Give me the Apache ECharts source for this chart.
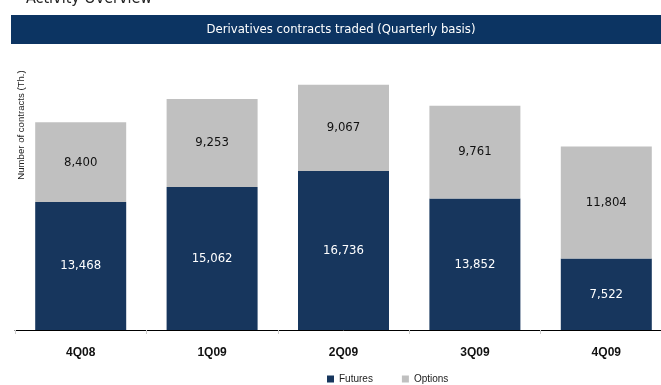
<!DOCTYPE html>
<html>
<head>
<meta charset="utf-8">
<script src="https://cdn.jsdelivr.net/npm/echarts@6/dist/echarts.min.js"></script>
<style>
  html, body { margin: 0; padding: 0; background: #fff; overflow: hidden; }
  /* the plot runs a little past the right edge of the page */
  #chart { width: 672px; height: 385px; }
</style>
</head>
<body>
<div id="chart"></div>
<script>
// Quarterly derivatives contracts traded, in thousands
const quarters = ['4Q08', '1Q09', '2Q09', '3Q09', '4Q09'];
const futures = [13468, 15062, 16736, 13852, 7522];
const options = [8400, 9253, 9067, 9761, 11804];

const fmt = v => v.toLocaleString('en-US');

const chart = echarts.init(document.getElementById('chart'), null, { renderer: 'canvas' });

chart.setOption({
  animation: false,
  backgroundColor: '#ffffff',
  graphic: [
    {
      type: 'text', left: 26, top: -9,
      style: { text: 'Activity Overview', font: '16px "DejaVu Sans Condensed", Tahoma, sans-serif', fill: '#222' }
    },
    {
      type: 'rect', shape: { x: 11, y: 15, width: 661, height: 29 },
      style: { fill: '#0c3462' }
    },
    {
      type: 'text', x: 341, y: 30,
      style: {
        text: 'Derivatives contracts traded (Quarterly basis)',
        font: '13px "DejaVu Sans Condensed", Tahoma, sans-serif',
        fill: '#ffffff', align: 'center', verticalAlign: 'middle'
      }
    },
    {
      type: 'text', x: 21, y: 125, rotation: Math.PI / 2,
      style: {
        text: 'Number of contracts (Th.)',
        font: '9.6px "Liberation Sans", Arial, sans-serif',
        fill: '#222', align: 'center', verticalAlign: 'middle'
      }
    }
  ],
  legend: {
    top: 369,
    left: 322,
    itemWidth: 7, itemHeight: 7, itemGap: 29,
    icon: 'rect',
    textStyle: { fontFamily: '"Liberation Sans", Arial, sans-serif', fontSize: 10, color: '#222' },
    data: ['Futures', 'Options']
  },
  grid: { left: 15, top: 64, right: 0, bottom: 55 },
  xAxis: {
    type: 'category',
    data: quarters,
    axisLine: { lineStyle: { color: '#000', width: 1 } },
    axisTick: { show: true, length: 4, lineStyle: { color: '#ccc' } },
    axisLabel: {
      fontFamily: '"Liberation Sans", Arial, sans-serif',
      fontWeight: 'bold', fontSize: 12, color: '#111', margin: 17
    }
  },
  yAxis: { type: 'value', min: 0, max: 28000, show: false, splitLine: { show: false } },
  series: [
    {
      name: 'Futures', type: 'bar', stack: 'total', barWidth: 91,
      data: futures,
      itemStyle: { color: '#17365d' },
      label: {
        show: true, position: 'inside', formatter: p => fmt(p.value),
        color: '#fff', fontSize: 13, fontFamily: '"DejaVu Sans Condensed", Tahoma, sans-serif'
      }
    },
    {
      name: 'Options', type: 'bar', stack: 'total', barWidth: 91,
      data: options,
      itemStyle: { color: '#c0c0c0' },
      label: {
        show: true, position: 'inside', formatter: p => fmt(p.value),
        color: '#111', fontSize: 13, fontFamily: '"DejaVu Sans Condensed", Tahoma, sans-serif'
      }
    }
  ]
});
</script>
</body>
</html>
